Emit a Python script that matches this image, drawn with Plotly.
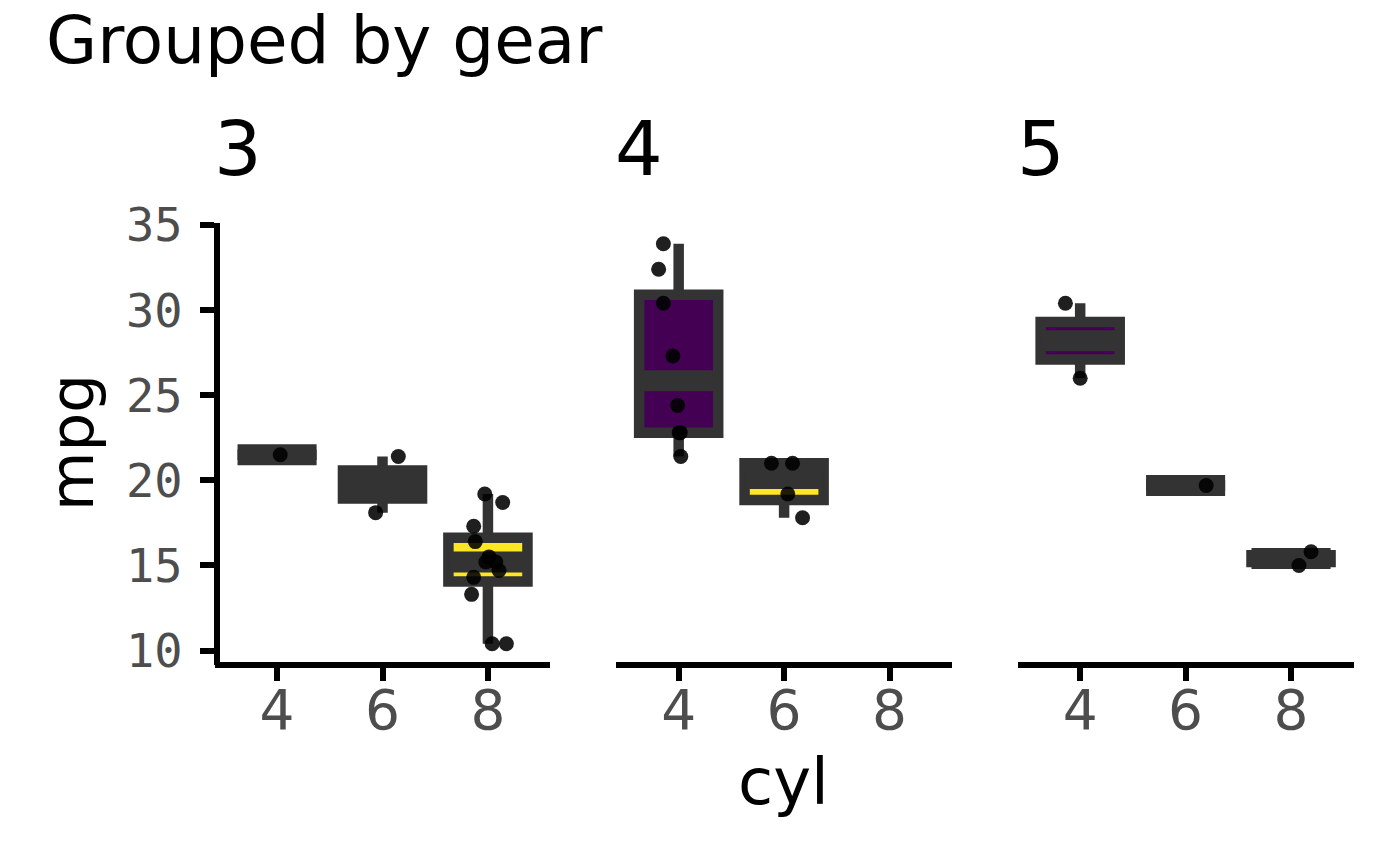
import numpy as np
import plotly.graph_objects as go

# ---- data (mtcars: mpg by cyl, faceted by gear) ----
gear = [3] * 15 + [4] * 12 + [5] * 5
cyl = ([4] + [6] * 2 + [8] * 12
       + [4] * 8 + [6] * 4
       + [4] * 2 + [6] + [8] * 2)
mpg = ([21.5,
        21.4, 18.1,
        18.7, 14.3, 16.4, 17.3, 15.2, 10.4, 10.4, 14.7, 15.5, 15.2, 13.3, 19.2,
        22.8, 24.4, 22.8, 32.4, 30.4, 33.9, 27.3, 21.4,
        21.0, 21.0, 19.2, 17.8,
        26.0, 30.4,
        19.7,
        15.8, 15.0])
# horizontal jitter positions
cyl_jitter = ([4.06,
               6.30, 5.87,
               8.28, 7.73, 7.76, 7.73, 7.96, 8.08, 8.35, 8.21, 8.02, 8.15, 7.69, 7.94,
               4.01, 3.98, 4.03, 3.62, 3.71, 3.71, 3.89, 4.04,
               5.76, 6.16, 6.07, 6.35,
               4.00, 3.72,
               6.39,
               8.38, 8.15])
gears = [3, 4, 5]
cyl_levels = [4, 6, 8]
fill_by_cyl = {4: "#440154", 6: "#FDE725", 8: "#FDE725"}

W, H = 1400, 866
panel_px = [(214.5, 550.4), (616.1, 952.0), (1017.6, 1353.5)]
ytop_px, ybot_px = 223.3, 665.0
yline_px = 217.0
xrange_ = [2.813, 9.185]
yrange_ = [9.15, 35.1]
BOX_LW = 10.5
MED_LW = 21
BOX_W = 1.5
DARK = "#333333"

gear_a = np.array(gear)
cyl_a = np.array(cyl)
mpg_a = np.array(mpg)
jit_a = np.array(cyl_jitter)

fig = go.Figure()

for i, g in enumerate(gears):
    xa = "x" if i == 0 else f"x{i+1}"
    ya = "y" if i == 0 else f"y{i+1}"
    for c in cyl_levels:
        v = mpg_a[(gear_a == g) & (cyl_a == c)]
        if len(v) == 0:
            continue
        q1, med, q3 = np.percentile(v, [25, 50, 75])
        iqr = q3 - q1
        lo = v[v >= q1 - 1.5 * iqr].min()
        hi = v[v <= q3 + 1.5 * iqr].max()
        fig.add_trace(go.Box(
            x=[c], q1=[q1], median=[med], q3=[q3],
            lowerfence=[lo], upperfence=[hi],
            width=BOX_W, whiskerwidth=0, boxpoints=False,
            fillcolor=fill_by_cyl[c],
            line=dict(color=DARK, width=BOX_LW),
            xaxis=xa, yaxis=ya, showlegend=False, hoverinfo="skip",
        ))
        fig.add_trace(go.Scatter(
            x=[c - BOX_W / 2, c + BOX_W / 2], y=[med, med], mode="lines",
            line=dict(color=DARK, width=MED_LW),
            xaxis=xa, yaxis=ya, showlegend=False, hoverinfo="skip",
        ))
    m = gear_a == g
    fig.add_trace(go.Scatter(
        x=jit_a[m], y=mpg_a[m], mode="markers",
        marker=dict(color="black", size=15, opacity=0.88, line=dict(width=0)),
        xaxis=xa, yaxis=ya, showlegend=False,
    ))

layout = dict(
    width=W, height=H, margin=dict(l=0, r=0, t=0, b=0, pad=0, autoexpand=False),
    paper_bgcolor="white", plot_bgcolor="white",
    boxmode="overlay", showlegend=False,
    font=dict(family="DejaVu Sans", color="black"),
)
ydom = [1 - ybot_px / H, 1 - ytop_px / H]
for i in range(3):
    xk = "xaxis" if i == 0 else f"xaxis{i+1}"
    yk = "yaxis" if i == 0 else f"yaxis{i+1}"
    layout[xk] = dict(
        domain=[panel_px[i][0] / W, panel_px[i][1] / W],
        anchor="free", position=1 - ybot_px / H,
        range=xrange_, tickmode="array", tickvals=cyl_levels,
        ticktext=[str(c) for c in cyl_levels],
        showline=True, linecolor="black", linewidth=6,
        ticks="outside", ticklen=13, tickwidth=5.5, tickcolor="black",
        tickfont=dict(family="DejaVu Sans", size=55, color="#4d4d4d"),
        ticklabelstandoff=-18, automargin=False,
        showgrid=False, zeroline=False, fixedrange=True,
    )
    ycfg = dict(
        domain=ydom, range=yrange_,
        tickmode="linear", tick0=0, dtick=5,
        showline=(i == 0), linecolor="black", linewidth=6,
        ticks="outside" if i == 0 else "", ticklen=14, tickwidth=5.5, tickcolor="black",
        showticklabels=(i == 0),
        tickfont=dict(family="DejaVu Sans Mono", size=47, color="#4d4d4d"),
        ticklabelstandoff=8, automargin=False,
        showgrid=False, zeroline=False, fixedrange=True,
    )
    if i == 0:
        ycfg.update(anchor="free", position=yline_px / W)
    else:
        ycfg.update(anchor=f"x{i+1}")
    layout[yk] = ycfg

annotations = [
    dict(text="Grouped by gear", x=46 / W, y=1 - 40.8 / H, xref="paper", yref="paper",
         xanchor="left", yanchor="middle", showarrow=False,
         font=dict(size=66, family="DejaVu Sans", color="black"), borderpad=0, borderwidth=0),
    dict(text="cyl", x=783 / W, y=1 - 781.5 / H, xref="paper", yref="paper",
         xanchor="center", yanchor="middle", showarrow=False,
         font=dict(size=64, family="DejaVu Sans", color="black"), borderpad=0, borderwidth=0),
    dict(text="mpg", x=72 / W, y=1 - 443 / H, xref="paper", yref="paper",
         xanchor="center", yanchor="middle", showarrow=False, textangle=-90,
         font=dict(size=61, family="DejaVu Sans", color="black"), borderpad=0, borderwidth=0),
]
for i, g in enumerate(gears):
    annotations.append(dict(
        text=str(g), x=(panel_px[i][0] - 1) / W, y=1 - 149 / H, xref="paper", yref="paper",
        xanchor="left", yanchor="middle", showarrow=False,
        font=dict(size=75, family="DejaVu Sans", color="black"), borderpad=0, borderwidth=0))
layout["annotations"] = annotations

fig.update_layout(**layout)
fig.write_html(
    "out.html",
    config={"displayModeBar": False},
    post_script=("document.documentElement.style.margin='0';"
                 "document.body.style.margin='0';"
                 "document.body.style.overflow='hidden';"
                 "document.documentElement.style.overflow='hidden';"),
)
